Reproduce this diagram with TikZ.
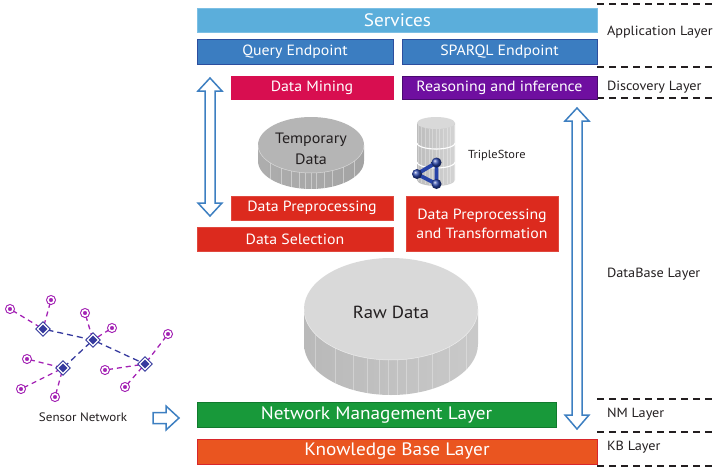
\documentclass[tikz,border=0pt]{standalone}
\usepackage{fontspec}
\setmainfont[FakeStretch=1.07]{PT Sans}
\usetikzlibrary{shapes.geometric,backgrounds}

\definecolor{svcblue}{HTML}{5BAEDB}
\definecolor{svcedge}{HTML}{7CBFE4}
\definecolor{epblue}{HTML}{3B7DC1}
\definecolor{epedge}{HTML}{2C4E9E}
\definecolor{mining}{HTML}{D80E50}
\definecolor{reason}{HTML}{6F0FA0}
\definecolor{reasonedge}{HTML}{4A0A70}
\definecolor{redbox}{HTML}{DC2A1E}
\definecolor{rededge}{HTML}{E0483E}
\definecolor{nmgreen}{HTML}{18993A}
\definecolor{nmedge}{HTML}{107A2D}
\definecolor{kborange}{HTML}{EA5520}
\definecolor{kbedge}{HTML}{D8262A}
\definecolor{arrowblue}{HTML}{3D7FC1}
\definecolor{textdark}{HTML}{231F20}
\definecolor{hubblue}{HTML}{363A9E}
\definecolor{sensorpurple}{HTML}{A322B4}
\definecolor{iconblue}{HTML}{2743A8}

\begin{document}
\begin{tikzpicture}[x=1pt,y=-1pt,
  every node/.style={inner sep=0pt,outer sep=0pt},
  bar/.style={rectangle,text=white,line width=0.8pt,
    font=\fontsize{14.8}{18}\selectfont},
  bigbar/.style={bar,font=\fontsize{18}{21}\selectfont},
  layerlabel/.style={anchor=west,text=textdark,font=\fontsize{13.3}{16}\selectfont},
  sepline/.style={draw=textdark,line width=1.1pt,dash pattern=on 7pt off 5pt},
  hollowarrow/.style={draw=arrowblue,fill=white,line width=1.5pt,line join=miter},
  hub/.style={diamond,fill=hubblue,draw=hubblue,line width=1pt,
    double=white,double distance=1.3pt,minimum size=11pt},
  sensor/.style={circle,fill=sensorpurple,draw=sensorpurple,line width=1.1pt,
    double=white,double distance=1.6pt,minimum size=6pt},
  hublink/.style={draw=hubblue,line width=1.3pt,dash pattern=on 6pt off 4pt},
  sensorlink/.style={draw=sensorpurple,line width=1.3pt,dash pattern=on 5pt off 4pt},
  stripe/.style={draw=white,opacity=0.4,line width=0.5pt}
]
\useasboundingbox (0,0) rectangle (715,469);

% ---- layer separators and layer names ----
\foreach \yy in {4,67,98,399,432,466}
  \draw[sepline] (597,\yy) -- (715,\yy);
\node[layerlabel] (lapp)  at (607,32)  {Application Layer};
\node[layerlabel] (ldisc) at (607,87)  {Discovery Layer};
\node[layerlabel] (ldb)   at (607,274) {DataBase Layer};
\node[layerlabel] (lnm)   at (607,414) {NM Layer};
\node[layerlabel] (lkb)   at (607,447) {KB Layer};

% ---- application layer ----
\node[bigbar,fill=svcblue,draw=svcedge,minimum width=400pt,minimum height=24pt]
  (services) at (397.5,20) {Services};
\node[bar,fill=epblue,draw=epedge,minimum width=196pt,minimum height=25pt]
  (query) at (295,51.5) {Query Endpoint};
\node[bar,fill=epblue,draw=epedge,minimum width=195pt,minimum height=25pt]
  (sparql) at (499.5,51.5) {SPARQL Endpoint};

% ---- discovery layer ----
\node[bar,fill=mining,draw=mining,minimum width=162pt,minimum height=23pt]
  (mining) at (312,87.5) {Data Mining};
\node[bar,fill=reason,draw=reasonedge,minimum width=195pt,minimum height=23pt]
  (reason) at (499.5,87.5) {Reasoning and inference};

% ---- vertical two-way arrows ----
\draw[hollowarrow] (210,78) -- (222,91) -- (215,91) -- (215,203) -- (222,203)
  -- (210,216) -- (198,203) -- (205,203) -- (205,91) -- (198,91) -- cycle;
\draw[hollowarrow] (577,108) -- (589,121) -- (582,121) -- (582,415) -- (589,415)
  -- (577,429) -- (565,415) -- (572,415) -- (572,121) -- (565,121) -- cycle;

% ---- temporary data store ----
\path[left color=gray!64,right color=gray!72]
  (258,145) rectangle (364,161) (311,161) ellipse [x radius=53pt,y radius=28pt];
\foreach \t in {35,52,66,76,84,90,96,103,112,124,140}
  \draw[stripe] ({311+53*cos(\t)},{145+28*sin(\t)}) -- ++(0,16);
\fill[gray!58] (311,145) ellipse [x radius=53pt,y radius=28pt];
\draw[white,opacity=0.5,line width=0.5pt]
  plot[domain=0:180,samples=40] ({311+53*cos(\x)},{145+28*sin(\x)});
\node[text=textdark,align=center,font=\fontsize{15}{21}\selectfont]
  (tempdata) at (311,149) {Temporary\\Data};

% ---- triple store ----
\path[left color=gray!52,right color=gray!34]
  (417,123) rectangle (455,180) (436,180) ellipse [x radius=19pt,y radius=6pt];
\foreach \a/\b in {123/143,143/162,162/180}
  \foreach \t in {20,40,55,68,80,90,100,112,125,140,160}
    \draw[stripe,opacity=0.3] ({436+19*cos(\t)},{\a+6*sin(\t)}) -- ({436+19*cos(\t)},{\b+6*sin(\t)-1});
\foreach \yy in {143,162}
  \draw[white,line width=1.1pt]
    plot[domain=0:180,samples=30] ({436+19*cos(\x)},{\yy+6*sin(\x)});
\fill[gray!30] (436,123) ellipse [x radius=19pt,y radius=6pt];
\coordinate (ball1) at (436.5,162.5);
\coordinate (ball2) at (417,174);
\coordinate (ball3) at (436.5,184);
\draw[iconblue,line width=3.8pt,line join=round] (ball1) -- (ball2) -- (ball3) -- cycle;
\foreach \b in {ball1,ball2,ball3}
  \shade[ball color=iconblue] (\b) circle (5pt);
\node[anchor=west,text=textdark,font=\fontsize{11.6}{14}\selectfont]
  (triplestore) at (468,156) {TripleStore};

% ---- preprocessing and selection ----
\node[bar,fill=redbox,draw=rededge,minimum width=162pt,minimum height=24pt]
  (prep) at (312,208) {Data Preprocessing};
\node[bar,fill=redbox,draw=rededge,minimum width=196pt,minimum height=24pt]
  (select) at (295,239) {Data Selection};
\node[bar,fill=redbox,draw=rededge,minimum width=152pt,minimum height=55pt,
  align=center,font=\fontsize{14.8}{19}\selectfont]
  (transform) at (482,223.5) {Data Preprocessing\\and Transformation};

% ---- raw data store ----
\path[left color=gray!55,right color=gray!42]
  (304,309) rectangle (478,344) (391,344) ellipse [x radius=87pt,y radius=51pt];
\foreach \t in {30,48,62,72,80,86,92,98,106,116,130,150}
  \draw[stripe,opacity=0.3] ({391+87*cos(\t)},{309+51*sin(\t)}) -- ++(0,35);
\fill[gray!30] (391,309) ellipse [x radius=87pt,y radius=51pt];
\draw[white,opacity=0.6,line width=0.5pt]
  plot[domain=0:180,samples=60] ({391+87*cos(\x)},{309+51*sin(\x)});
\node[text=textdark,font=\fontsize{17.5}{21}\selectfont] (raw) at (391,312) {Raw Data};

% ---- bottom layers ----
\node[bigbar,fill=nmgreen,draw=nmedge,minimum width=359pt,minimum height=25pt]
  (nm) at (376.5,415) {Network Management Layer};
\node[bigbar,fill=kborange,draw=kbedge,minimum width=400pt,minimum height=25pt]
  (kb) at (397,451.5) {Knowledge Base Layer};

% ---- sensor network ----
\foreach \n/\x/\y in {h1/43/329,h2/93/340,h3/63/368,h4/145/364}
  \node[hub] (\n) at (\x,\y) {};
\foreach \n/\x/\y in {s1/10/309,s2/51/300,s3/85/313,s4/112/328,s5/168/334,
    s6/27/359,s7/21/389,s8/55/397,s9/105/370,s10/125/387}
  \node[sensor] (\n) at (\x,\y) {};
\begin{scope}[on background layer]
  \foreach \a/\b in {h1/h2,h2/h3,h2/h4}
    \draw[hublink] (\a) -- (\b);
  \foreach \a/\b in {s1/h1,s2/h1,s3/h2,s4/h2,s6/h3,s7/h3,s8/h3,s9/h4,s10/h4,s5/h4}
    \draw[sensorlink] (\a) -- (\b);
\end{scope}
\node[text=textdark,font=\fontsize{12.2}{14}\selectfont] (sensornet) at (83,417) {Sensor Network};
\draw[hollowarrow] (153,412.5) -- (166,412.5) -- (166,406) -- (179,418)
  -- (166,430) -- (166,423.5) -- (153,423.5) -- cycle;
\end{tikzpicture}
\end{document}
